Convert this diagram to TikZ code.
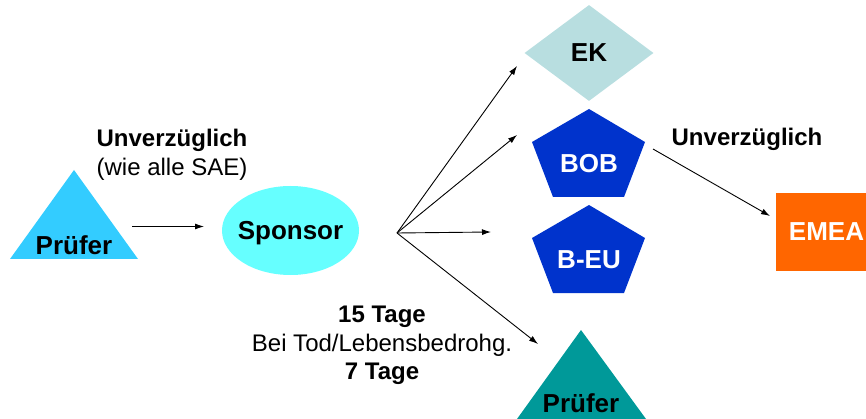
\documentclass[tikz,border=0pt]{standalone}
\usepackage{fontspec}
\setmainfont{Liberation Sans}
\usetikzlibrary{shapes.geometric,arrows.meta}
\definecolor{pruefblau}{HTML}{33CCFF}
\definecolor{sponsorcyan}{HTML}{66FFFF}
\definecolor{ekgrau}{HTML}{B8DEE0}
\definecolor{bobblau}{HTML}{0033CC}
\definecolor{emeaorange}{HTML}{FF6600}
\definecolor{pruefteal}{HTML}{009999}
\begin{document}
\begin{tikzpicture}[x=1pt,y={(0pt,-1pt)},
		lbl/.style={font=\fontsize{26}{30}\selectfont\bfseries, inner sep=0pt},
		note/.style={font=\fontsize{24}{28.5}\selectfont, align=center, inner sep=0pt},
		pfeil/.style={-{Latex[length=9pt,width=6pt]}, line width=0.9pt}]
	\useasboundingbox (0,0) rectangle (866,419);
	% Pruefer links
	\fill[pruefblau] (10,259) -- (74,170) -- (138,259) -- cycle;
	\node[lbl] (pruefer) at (74,245.5) {Prüfer};
	\fill[sponsorcyan] (290.5,230.5) ellipse [x radius=68.5pt, y radius=44.5pt];
	\node[lbl] (sponsor) at (290.5,233) {Sponsor};
	\node[note] (sofort) at (172,155) {\textbf{Unverzüglich}\\(wie alle SAE)};
	% Empfaenger
	\node[lbl, diamond, fill=ekgrau, minimum width=129pt, minimum height=96pt] (ek) at (589,53) {EK};
	\fill[bobblau] (589,109) -- (645,142) -- (624,197) -- (553,197) -- (532,142) -- cycle;
	\node[lbl, text=white] (bob) at (589,163.5) {BOB};
	\fill[bobblau] (589,205) -- (645,238) -- (624,293) -- (553,293) -- (532,238) -- cycle;
	\node[lbl, text=white] (beu) at (589,259.5) {B-EU};
	\fill[pruefteal] (517,419) -- (581,330) -- (646,419) -- cycle;
	\node[lbl] (pruefer2) at (581,403.5) {Prüfer};
	\node[lbl, text=white, fill=emeaorange, minimum width=101pt, minimum height=78pt] (emea) at (826.5,232) {EMEA};
	\node[note] (sofort2) at (747,139.8) {\textbf{Unverzüglich}};
	\node[note] (fristen) at (382,345.7) {\textbf{15 Tage}\\Bei Tod/Lebensbedrohg.\\\textbf{7 Tage}};
	% Pfeile
	\coordinate (pfA) at (132,226.5);
	\coordinate (pfB) at (204,226.5);
	\coordinate (fan) at (397,233);
	\coordinate (tipEK) at (517,66);
	\coordinate (tipBOB) at (517,135);
	\coordinate (tipBEU) at (491,232);
	\coordinate (tipPR) at (538,344);
	\coordinate (bobOut) at (653,149);
	\coordinate (tipEMEA) at (770,216);
	\draw[pfeil] (pfA) -- (pfB);
	\draw[pfeil] (fan) -- (tipEK);
	\draw[pfeil] (fan) -- (tipBOB);
	\draw[pfeil] (fan) -- (tipBEU);
	\draw[pfeil] (fan) -- (tipPR);
	\draw[pfeil] (bobOut) -- (tipEMEA);
\end{tikzpicture}
\end{document}
